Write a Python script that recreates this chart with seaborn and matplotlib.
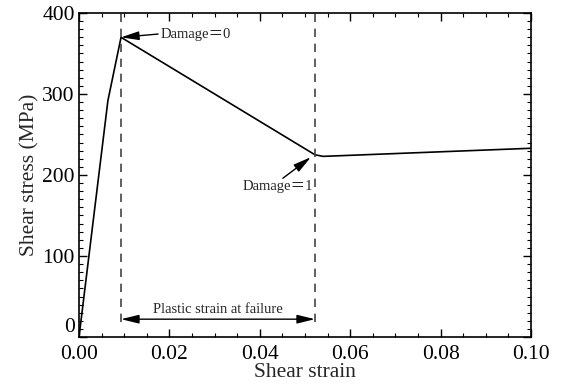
import matplotlib
matplotlib.use("Agg")
import matplotlib.pyplot as plt
import matplotlib.transforms as mtransforms
import seaborn as sns
import pandas as pd
from matplotlib.ticker import MultipleLocator, FormatStrFormatter, FuncFormatter

strain = [0.0, 0.0064, 0.0093, 0.0522, 0.0540, 0.100]
stress = [0.0, 292.0, 370.0, 225.0, 223.0, 233.0]
damage0_x, damage0_y = 0.0093, 370.0
damage1_x, damage1_y = 0.0522, 225.0

sns.set_theme(style="ticks")
plt.rcParams['font.family'] = ['Liberation Serif', 'Noto Sans CJK SC', 'DejaVu Serif']

fig = plt.figure(figsize=(5.63, 3.91), dpi=100)
ax = fig.add_axes([79/563, 1-337/391, (531-79)/563, (337-13)/391])

df = pd.DataFrame({"strain": strain, "stress": stress})
sns.lineplot(data=df, x="strain", y="stress", ax=ax, color="black", lw=1.2, sort=False)

ax.set_xlim(0, 0.10)
ax.set_ylim(0, 400)
ax.xaxis.set_major_locator(MultipleLocator(0.02))
ax.xaxis.set_minor_locator(MultipleLocator(0.005))
ax.yaxis.set_major_locator(MultipleLocator(100))
ax.yaxis.set_minor_locator(MultipleLocator(10))
ax.xaxis.set_major_formatter(FormatStrFormatter('%.2f'))
ax.yaxis.set_major_formatter(FuncFormatter(lambda v, p: "" if v == 0 else f"{v:.0f}"))
ax.tick_params(which='both', direction='in', top=True, right=True, colors='black', labelsize=15.5)
ax.tick_params(which='major', length=6, width=1)
ax.tick_params(which='minor', length=3, width=0.8)
ax.tick_params(axis='x', pad=6)
ax.tick_params(axis='y', pad=3)
for s in ax.spines.values():
    s.set_color('black'); s.set_linewidth(1.2)
ax.set_xlabel("Shear strain", fontsize=15.5, labelpad=-1)
ax.set_ylabel("Shear stress (MPa)", fontsize=15.5, labelpad=2)

# zero label on the y axis, lifted slightly (as in the reference)
zero_tf = ax.get_yaxis_transform() + mtransforms.ScaledTranslation(-3/72, 0, fig.dpi_scale_trans)
ax.text(0, 0, "0", transform=zero_tf, ha='right', va='bottom', fontsize=15.5, color='black')

ax.plot([damage0_x, damage0_x], [18, 400], ls=(0, (5, 4)), color='#444444', lw=1.2)
ax.plot([damage1_x, damage1_x], [18, 400], ls=(0, (5, 4)), color='#444444', lw=1.2)

ax.annotate("", xy=(damage0_x, 22), xytext=(damage1_x, 22),
            arrowprops=dict(arrowstyle='<|-|>,head_length=0.9,head_width=0.22', color='black',
                            lw=1, mutation_scale=12, shrinkA=0, shrinkB=0))
ax.text((damage0_x + damage1_x) / 2, 34, "Plastic strain at failure", ha='center', va='center', fontsize=10.5)

ax.annotate("", xy=(damage0_x, damage0_y), xytext=(0.0175, 374),
            arrowprops=dict(arrowstyle='-|>,head_length=0.9,head_width=0.22', color='black',
                            lw=1, mutation_scale=12, shrinkA=0, shrinkB=0))
ax.text(0.0180, 374, "Damage＝0", ha='left', va='center', fontsize=10.5)

ax.annotate("", xy=(0.0513, 222), xytext=(0.0451, 196),
            arrowprops=dict(arrowstyle='-|>,head_length=0.9,head_width=0.22', color='black',
                            lw=1, mutation_scale=12, shrinkA=0, shrinkB=0))
ax.text(0.0440, 186, "Damage＝1", ha='center', va='center', fontsize=10.5)

fig.savefig("out.png", dpi=100)
